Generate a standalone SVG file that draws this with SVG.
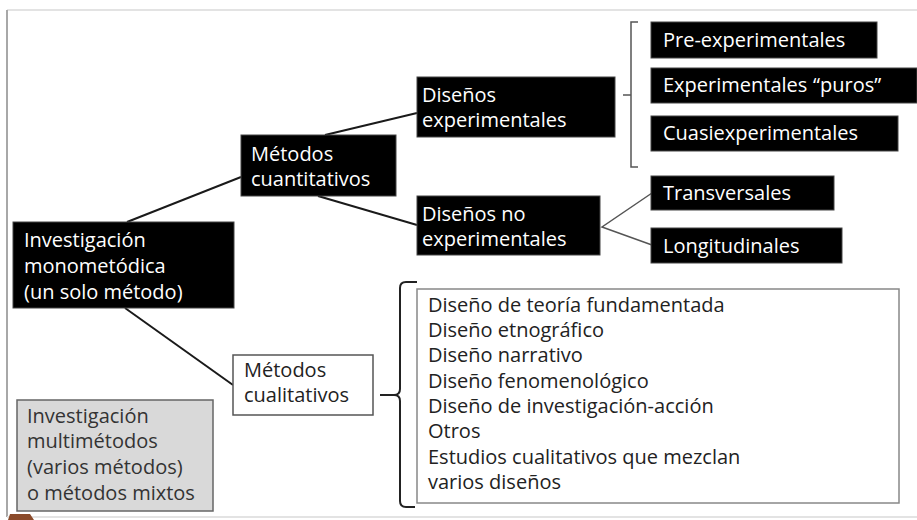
<svg xmlns="http://www.w3.org/2000/svg" width="917" height="520" viewBox="0 0 917 520">
<style>
text{font-family:"Open Sans","Liberation Sans",sans-serif;font-size:20px}
.blk rect{fill:#000;stroke:#444;stroke-width:1}
.blk text{fill:#fff}
.wht rect{fill:#fff;stroke:#555;stroke-width:1.5}
.wht text{fill:#222}
.conn line,.conn polyline{stroke:#1a1a1a;stroke-width:2;fill:none}
.br{stroke:#555;stroke-width:1.5;fill:none}
</style>
<rect x="0" y="0" width="917" height="520" fill="#fff"/>
<g id="frame">
<line x1="7" y1="10" x2="917" y2="10" stroke="#e3e3e3" stroke-width="2"/>
<line x1="7" y1="10" x2="7" y2="517" stroke="#a8a8a8" stroke-width="2"/>
<line x1="7" y1="517" x2="917" y2="517" stroke="#e3e3e3" stroke-width="2"/>
<path d="M8 520 L10 514 L30 514 L34 520 Z" fill="#8a4a2a"/>
</g>
<g class="conn" id="connectors">
<line x1="127" y1="222" x2="241" y2="177"/>
<line x1="325" y1="135" x2="417" y2="113"/>
<line x1="318" y1="196" x2="417" y2="225"/>
<line x1="125" y1="308" x2="233" y2="385"/>
<polyline points="652,193 602,227 652,245" style="stroke:#555;stroke-width:1.5"/>
<path class="br" d="M638 22 L631 22 L631 167 L638 167 M623 95 L631 95"/>
<path d="M417 282 L406 282 Q400 282 400 288 L400 389 Q400 395 394 395 L380 395 M394 395 Q400 395 400 401 L400 501 Q400 507 406 507 L415 507" stroke="#222" stroke-width="2" fill="none"/>
</g>
<g id="n-mono" class="blk">
<rect x="13" y="222" width="221" height="86"/>
<text x="24" y="247">Investigación</text>
<text x="24" y="273">monometódica</text>
<text x="24" y="299">(un solo método)</text>
</g>
<g id="n-cuant" class="blk">
<rect x="241" y="135" width="155" height="61"/>
<text x="251" y="161">Métodos</text>
<text x="251" y="186">cuantitativos</text>
</g>
<g id="n-dexp" class="blk">
<rect x="417" y="77" width="198" height="60"/>
<text x="422" y="102">Diseños</text>
<text x="422" y="127">experimentales</text>
</g>
<g id="n-dnoexp" class="blk">
<rect x="417" y="196" width="183" height="59"/>
<text x="422" y="221">Diseños no</text>
<text x="422" y="246">experimentales</text>
</g>
<g id="n-pre" class="blk">
<rect x="651" y="22" width="226" height="36"/>
<text x="663" y="47">Pre-experimentales</text>
</g>
<g id="n-puros" class="blk">
<rect x="651" y="68" width="266" height="35"/>
<text x="663" y="92">Experimentales <tspan x="813">“puros”</tspan></text>
</g>
<g id="n-cuasi" class="blk">
<rect x="651" y="116" width="247" height="35"/>
<text x="663" y="140">Cuasiexperimentales</text>
</g>
<g id="n-trans" class="blk">
<rect x="651" y="176" width="183" height="34"/>
<text x="663" y="200">Transversales</text>
</g>
<g id="n-long" class="blk">
<rect x="651" y="228" width="191" height="35"/>
<text x="663" y="253">Longitudinales</text>
</g>
<g id="n-cual" class="wht">
<rect x="233" y="355" width="140" height="60"/>
<text x="244" y="377">Métodos</text>
<text x="244" y="402">cualitativos</text>
</g>
<g id="n-list" class="wht">
<rect x="417" y="289" width="482" height="214" style="stroke:#888"/>
<text x="428" y="312">Diseño de teoría fundamentada</text>
<text x="428" y="337">Diseño etnográfico</text>
<text x="428" y="362">Diseño narrativo</text>
<text x="428" y="388">Diseño fenomenológico</text>
<text x="428" y="413">Diseño de investigación-acción</text>
<text x="428" y="438">Otros</text>
<text x="428" y="464">Estudios cualitativos que mezclan</text>
<text x="428" y="489">varios diseños</text>
</g>
<g id="n-multi">
<rect x="17" y="400" width="196" height="111" fill="#d9d9d9" stroke="#666" stroke-width="1.5"/>
<text x="27" y="423" fill="#333">Investigación</text>
<text x="27" y="448" fill="#333">multimétodos</text>
<text x="27" y="474" fill="#333">(varios métodos)</text>
<text x="27" y="500" fill="#333">o métodos mixtos</text>
</g>
</svg>
